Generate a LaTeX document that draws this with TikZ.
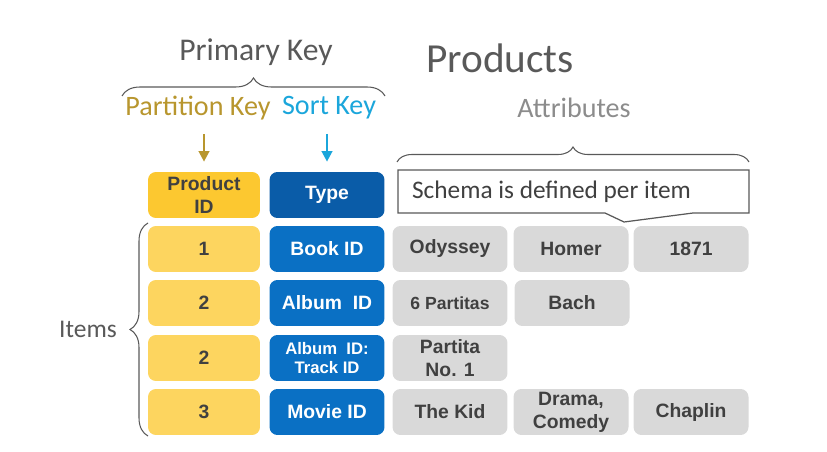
\documentclass[tikz,border=0pt]{standalone}
\usepackage{fontspec}
\setmainfont{Carlito}
\newfontfamily\boxfont{Liberation Sans}
\usetikzlibrary{arrows.meta,decorations.pathreplacing,positioning}
\definecolor{keyHead}{RGB}{252,200,48}
\definecolor{keyRow}{RGB}{253,213,95}
\definecolor{sortHead}{RGB}{10,92,168}
\definecolor{sortRow}{RGB}{10,112,196}
\definecolor{attrFill}{RGB}{217,217,217}
\definecolor{inkDark}{RGB}{64,64,64}
\definecolor{labelGray}{RGB}{89,89,89}
\definecolor{lightGray}{RGB}{140,140,140}
\definecolor{pkGold}{RGB}{184,150,46}
\definecolor{skCyan}{RGB}{27,166,219}
\tikzset{
  tblCell/.style={rounded corners=4.5pt, align=center, inner sep=1pt, minimum height=0.92cm, font=\boxfont\bfseries\fontsize{11}{13}\selectfont},
  tblKeyHead/.style={tblCell, fill=keyHead, text=inkDark, minimum width=2.24cm},
  tblKey/.style={tblCell, fill=keyRow, text=inkDark, minimum width=2.24cm},
  tblSortHead/.style={tblCell, fill=sortHead, text=white, minimum width=2.3cm},
  tblSort/.style={tblCell, fill=sortRow, text=white, minimum width=2.3cm},
  tblAttr/.style={tblCell, fill=attrFill, text=inkDark, minimum width=2.3cm},
  tblSmall/.style={font=\boxfont\bfseries\fontsize{9.5}{11}\selectfont},
  tblTitle/.style={font=\fontsize{16}{19}\selectfont, text=labelGray, inner sep=1pt},
  tblBrace/.style={decorate, decoration={brace, amplitude=#1}, labelGray, line width=0.6pt},
  tblArrow/.style={-{Triangle[width=6pt,length=6pt]}, line width=1.3pt}
}
\begin{document}
\begin{tikzpicture}[x=0.02cm, y=-0.02cm]
  \useasboundingbox (0,0) rectangle (827,452);
  \node[tblTitle, font=\fontsize{18}{21}\selectfont] (primary) at (256,52) {Primary Key};
  \node[tblTitle, font=\fontsize{23.5}{28}\selectfont] (products) at (500,58) {Products};
  \node[tblTitle, text=pkGold] (pkLabel) at (198,108) {Partition Key};
  \node[tblTitle, text=skCyan] (skLabel) at (329,108) {Sort Key};
  \node[tblTitle, text=lightGray] (attrLabel) at (574,108) {Attributes};
  \node[tblTitle, font=\fontsize{14.5}{17}\selectfont, anchor=east] (items) at (119,329) {Items};
  \node[tblKeyHead] (pidHead) at (204,195) {Product\\ID};
  \node[tblSortHead] (typeHead) at (327,195) {Type};
  \node[tblKey] (pid1) at (204,249) {1};
  \node[tblKey] (pid2) at (204,303) {2};
  \node[tblKey] (pid3) at (204,358) {2};
  \node[tblKey] (pid4) at (204,412) {3};
  \node[tblSort] (type1) at (327,249) {Book ID};
  \node[tblSort] (type2) at (327,303) {Album\ \ ID};
  \node[tblSort, tblSmall] (type3) at (327,358) {Album\ \ ID:\\Track ID};
  \node[tblSort] (type4) at (327,412) {Movie ID};
  \node[tblAttr] (attr11) at (450,249) {Odyssey};
  \node[tblAttr] (attr12) at (571,249) {Homer};
  \node[tblAttr] (attr13) at (691,249) {1871};
  \node[tblAttr, font=\boxfont\bfseries\fontsize{10}{12}\selectfont] (attr21) at (450,303) {6 Partitas};
  \node[tblAttr] (attr22) at (572,303) {Bach};
  \node[tblAttr] (attr31) at (450,358) {Partita\\No. 1};
  \node[tblAttr] (attr41) at (450,412) {The Kid};
  \node[tblAttr] (attr42) at (571,412) {Drama,\\Comedy};
  \node[tblAttr] (attr43) at (691,412) {Chaplin};
  \draw[labelGray, line width=0.7pt, fill=white] (398,170) -- (749,170) -- (749,213) -- (693,213) -- (624,222) -- (605,213) -- (398,213) -- cycle;
  \node[tblTitle, font=\fontsize{14.4}{17}\selectfont, anchor=west, text=inkDark] (schema) at (410,192) {Schema is defined per item};
  \draw[tblBrace=0.36cm] (122,96) -- (385,96);
  \draw[tblBrace=0.3cm] (397,162) -- (749,162);
  \draw[tblBrace=0.36cm] (148,436) -- (148,223);
  \draw[tblArrow, pkGold, shorten <=7pt, shorten >=0.2cm] (pidHead.north |- pkLabel.south) -- (pidHead.north);
  \draw[tblArrow, skCyan, shorten <=7pt, shorten >=0.2cm] (typeHead.north |- skLabel.south) -- (typeHead.north);
\end{tikzpicture}
\end{document}
